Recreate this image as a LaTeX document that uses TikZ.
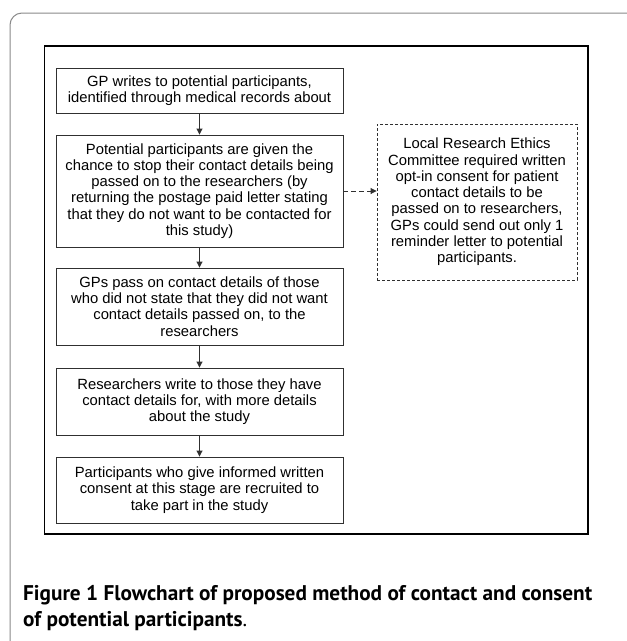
\documentclass[tikz,border=0pt]{standalone}
\usepackage{fontspec}
\usetikzlibrary{arrows.meta,calc}
\newfontfamily\boxfont{Liberation Sans}
\newfontfamily\capfont{PT Sans}
\definecolor{framegray}{HTML}{8A8A8A}
\definecolor{boxline}{HTML}{303030}
\begin{document}
\begin{tikzpicture}[x=1pt,y=-1pt,
  flowbox/.style={draw=boxline, line width=0.9pt, minimum width=287pt, inner sep=0pt,
    align=center, font=\boxfont\fontsize{14.8}{16.3}\selectfont, text=black},
  notebox/.style={draw=boxline, line width=0.9pt, dash pattern=on 3pt off 2pt,
    minimum width=200pt, minimum height=156pt, inner sep=0pt,
    align=center, font=\boxfont\fontsize{14.8}{16.3}\selectfont, text=black},
  flowarrow/.style={draw=boxline, line width=0.9pt, -{Triangle[length=6pt,width=6pt]}},
  notearrow/.style={draw=boxline, line width=0.9pt, dash pattern=on 5pt off 3pt,
    -{Triangle[length=6pt,width=6pt]}}]
\useasboundingbox (0,0) rectangle (627,641);
\fill[white] (0,0) rectangle (627,641);
% outer frame
\draw[framegray, line width=1pt, rounded corners=12pt] (10,645) -- (10,13) -- (630,13);
% inner frame
\draw[black, line width=1.1pt] (44.5,46) rectangle (588,534);
% boxes
\node[flowbox, minimum height=45pt] (b1) at (199.5,90.5)
  {GP writes to potential participants,\\identified through medical records about};
\node[flowbox, minimum height=112pt] (b2) at (199.5,191)
  {Potential participants are given the\\chance to stop their contact details being\\passed on to the researchers (by\\returning the postage paid letter stating\\that they do not want to be contacted for\\this study)};
\node[flowbox, minimum height=77pt] (b3) at (199.5,306.5)
  {GPs pass on contact details of those\\who did not state that they did not want\\contact details passed on, to the\\researchers};
\node[flowbox, minimum height=67pt] (b4) at (199.5,401.5)
  {Researchers write to those they have\\contact details for, with more details\\about the study};
\node[flowbox, minimum height=66pt] (b5) at (199.5,490)
  {Participants who give informed written\\consent at this stage are recruited to\\take part in the study};
\node[notebox] (n1) at (477,202)
  {Local Research Ethics\\Committee required written\\opt-in consent for patient\\contact details to be\\passed on to researchers,\\GPs could send out only 1\\reminder letter to potential\\participants.};
% connectors
\draw[flowarrow] (b1) -- (b2);
\draw[flowarrow] (b2) -- (b3);
\draw[flowarrow] (b3) -- (b4);
\draw[flowarrow] (b4) -- (b5);
\draw[notearrow] (b2.east) -- (b2.east -| n1.west);
% caption
\node[anchor=base west, inner sep=0pt, font=\capfont\fontsize{21.25}{26}\selectfont] (cap1) at (23,600.7)
  {\textbf{Figure 1 Flowchart of proposed method of contact and consent}};
\node[anchor=base west, inner sep=0pt, font=\capfont\fontsize{21.25}{26}\selectfont] (cap2) at (23,626.7)
  {\textbf{of potential participants}.};
\end{tikzpicture}
\end{document}
